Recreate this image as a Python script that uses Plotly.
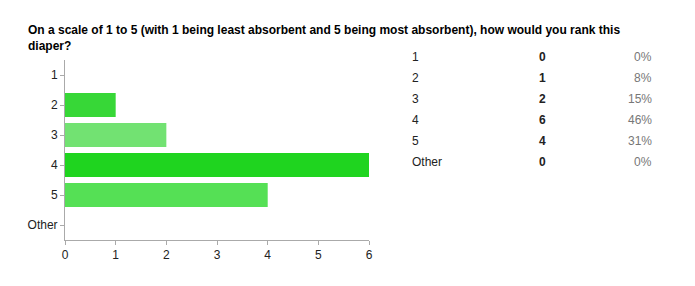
import plotly.graph_objects as go

categories = ["1", "2", "3", "4", "5", "Other"]
counts = [0, 1, 2, 6, 4, 0]
percents = ["0%", "8%", "15%", "46%", "31%", "0%"]
bar_colors = ["#3dd63d", "#37d737", "#72e272", "#1fd41f", "#55e055", "#3dd63d"]
x_ticks = [0, 1, 2, 3, 4, 5, 6]
title_text = "On a scale of 1 to 5 (with 1 being least absorbent and 5 being most absorbent), how would you rank this<br>diaper?"

W, H = 695, 286
ML, MR, MT, MB = 65, 0, 60, 46
PW = W - ML - MR
PH = H - MT - MB

fig = go.Figure()
fig.add_trace(go.Bar(
    x=counts, y=categories, orientation="h",
    marker=dict(color=bar_colors, line=dict(width=0)),
    hoverinfo="skip",
))

annotations = []
row_y0 = 57
row_step = 21
for i, (c, n, p) in enumerate(zip(categories, counts, percents)):
    py = row_y0 + i * row_step
    yp = (H - MB - py) / PH
    annotations.append(dict(text=c, x=(412 - ML) / PW, y=yp, xref="paper", yref="paper",
                            xanchor="left", yanchor="middle", showarrow=False,
                            font=dict(family="Arial, Liberation Sans", size=12, color="#222")))
    annotations.append(dict(text="<b>%d</b>" % n, x=(546 - ML) / PW, y=yp, xref="paper", yref="paper",
                            xanchor="center", yanchor="middle", showarrow=False,
                            font=dict(family="Arial, Liberation Sans", size=12, color="#222")))
    annotations.append(dict(text=p, x=(658 - ML) / PW, y=yp, xref="paper", yref="paper",
                            xanchor="right", yanchor="middle", showarrow=False,
                            font=dict(family="Arial, Liberation Sans", size=12, color="#777")))

fig.update_layout(
    width=W, height=H,
    margin=dict(l=ML, r=MR, t=MT, b=MB),
    paper_bgcolor="white", plot_bgcolor="white",
    showlegend=False,
    bargap=0.2,
    title=dict(text="<b>" + title_text + "</b>", x=28 / W, xanchor="left", xref="container",
               y=1 - 34 / H, yanchor="top", yref="container",
               font=dict(family="Arial, Liberation Sans", size=12, color="#000")),
    xaxis=dict(domain=[0, 306 / PW], range=[0, 6], tickvals=x_ticks, showgrid=False, zeroline=False,
               showline=True, linecolor="#aaa", linewidth=1, ticks="outside", ticklen=4,
               tickcolor="#aaa", tickfont=dict(family="Arial, Liberation Sans", size=12, color="#222"),
               fixedrange=True),
    yaxis=dict(categoryorder="array", categoryarray=categories, range=[5.5, -0.5],
               showgrid=False, zeroline=False, showline=True, linecolor="#aaa", linewidth=1,
               ticks="outside", ticklen=4, tickcolor="#aaa",
               tickfont=dict(family="Arial, Liberation Sans", size=12, color="#222"),
               fixedrange=True),
    annotations=annotations,
)

fig.write_html("out.html", config={"displayModeBar": False})
